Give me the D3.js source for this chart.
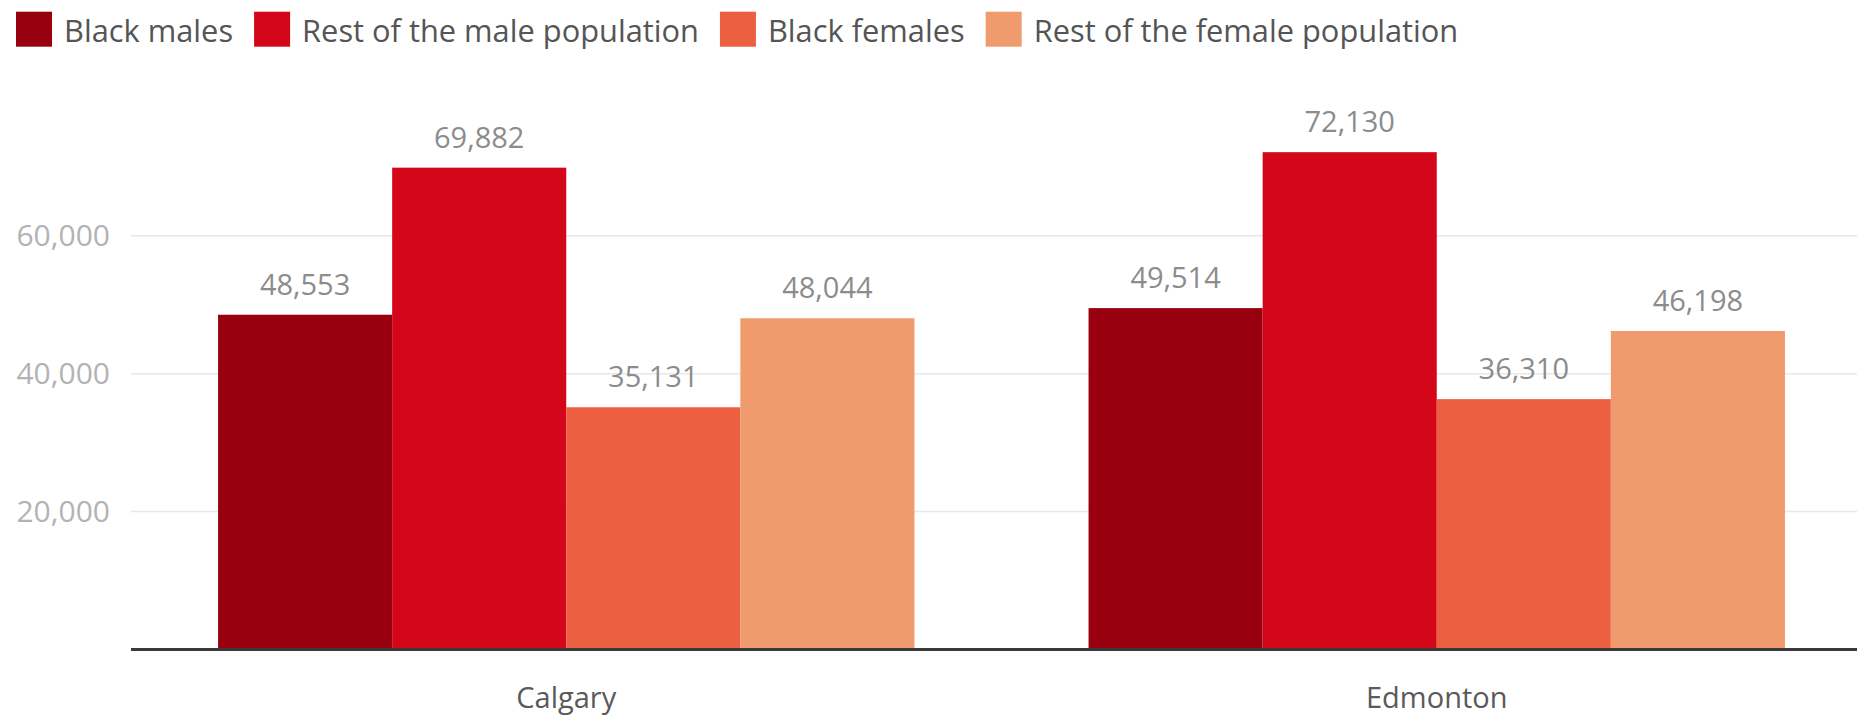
<!DOCTYPE html>
<html>
<head>
<meta charset="utf-8">
<script src="https://cdn.jsdelivr.net/npm/d3@7"></script>
<style>
  html, body { margin: 0; padding: 0; background: #fff; }
  svg { display: block; font-family: "Open Sans", sans-serif; }
</style>
</head>
<body>
<div id="chart"></div>
<script>
// chart data
const cities = ['Calgary', 'Edmonton'];
const seriesNames = ['Black males', 'Rest of the male population', 'Black females', 'Rest of the female population'];
const blackMales = [48553, 49514];
const restMales = [69882, 72130];
const blackFemales = [35131, 36310];
const restFemales = [48044, 46198];
const yTicks = [20000, 40000, 60000];
const colors = ['#98000f', '#d4061a', '#ec5f41', '#f09b6e'];

const width = 1857, height = 715;
const seriesValues = [blackMales, restMales, blackFemales, restFemales];

// build rows for grouped bars
const rows = cities.map((c, i) => ({
  city: c,
  values: seriesNames.map((s, j) => ({ key: s, value: seriesValues[j][i] }))
}));

const svg = d3.select('#chart')
  .append('svg')
  .attr('width', width)
  .attr('height', height);

const x0 = d3.scaleBand()
  .domain(cities)
  .range([131, 1872])
  .padding(0);

const x1 = d3.scaleBand()
  .domain(seriesNames)
  .range([0, x0.bandwidth()])
  .paddingInner(0)
  .paddingOuter(0.5);

const y = d3.scaleLinear()
  .domain([0, 80000])
  .range([649.5, 97.9]);

const color = d3.scaleOrdinal().domain(seriesNames).range(colors);

// gridlines + y labels
const yAxis = d3.axisLeft(y)
  .tickValues(yTicks)
  .tickSize(0)
  .tickPadding(21)
  .tickFormat(d3.format(','));

const yg = svg.append('g')
  .attr('transform', 'translate(131,0)')
  .call(yAxis);
yg.select('.domain').remove();
yg.selectAll('text')
  .attr('fill', '#b3b3b3')
  .attr('font-size', 30)
  .attr('font-family', '"Open Sans", sans-serif');

svg.append('g')
  .selectAll('line')
  .data(yTicks)
  .enter()
  .append('line')
  .attr('x1', 131)
  .attr('x2', width)
  .attr('y1', d => y(d))
  .attr('y2', d => y(d))
  .attr('stroke', '#e8e8e8')
  .attr('stroke-width', 1.5);

// bars
const groups = svg.append('g')
  .selectAll('g')
  .data(rows)
  .enter()
  .append('g')
  .attr('transform', d => `translate(${x0(d.city)},0)`);

groups.selectAll('rect')
  .data(d => d.values)
  .enter()
  .append('rect')
  .attr('x', d => x1(d.key))
  .attr('width', x1.bandwidth())
  .attr('y', d => y(d.value))
  .attr('height', d => y(0) - y(d.value))
  .attr('fill', d => color(d.key));

groups.selectAll('text')
  .data(d => d.values)
  .enter()
  .append('text')
  .attr('x', d => x1(d.key) + x1.bandwidth() / 2)
  .attr('y', d => y(d.value) - 20)
  .attr('text-anchor', 'middle')
  .attr('font-size', 29)
  .attr('fill', '#8c8c8c')
  .text(d => d3.format(',')(d.value));

// x axis
const xAxis = d3.axisBottom(x0).tickSize(0).tickPadding(38);
const xg = svg.append('g')
  .attr('transform', `translate(0,${y(0)})`)
  .call(xAxis);
xg.select('.domain').remove();
xg.selectAll('text')
  .attr('fill', '#5a5a5a')
  .attr('font-size', 29)
  .attr('font-family', '"Open Sans", sans-serif');

svg.append('line')
  .attr('x1', 131)
  .attr('x2', width)
  .attr('y1', y(0))
  .attr('y2', y(0))
  .attr('stroke', '#3a3a3a')
  .attr('stroke-width', 3);

// legend
const legend = svg.append('g');
let lx = 16;
seriesNames.forEach((s, i) => {
  legend.append('rect')
    .attr('x', lx)
    .attr('y', 11.7)
    .attr('width', 36)
    .attr('height', 35)
    .attr('fill', colors[i]);
  const t = legend.append('text')
    .attr('x', lx + 48)
    .attr('y', 41.5)
    .attr('font-size', 30.8)
    .attr('fill', '#555')
    .text(s);
  lx = lx + 48 + t.node().getComputedTextLength() + 21;
});
</script>
</body>
</html>
